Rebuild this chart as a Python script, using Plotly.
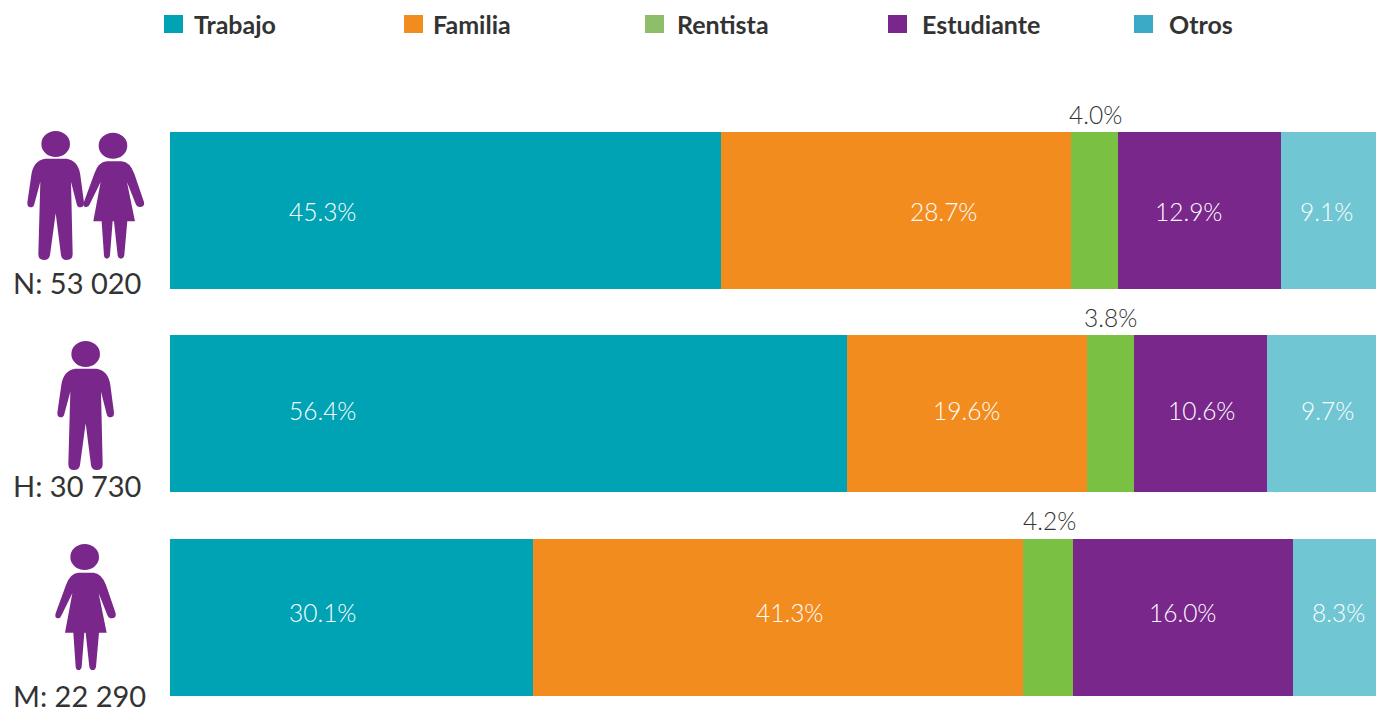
import re
import plotly.graph_objects as go

W, H = 1376, 707
LEFT = 170

groups = ["N", "H", "M"]
group_labels = ["N: 53 020", "H: 30 730", "M: 22 290"]
series_names = ["Trabajo", "Familia", "Rentista", "Estudiante", "Otros"]

# bar lengths as drawn in the picture (the source graphic is not strictly proportional)
trabajo = [45.7, 56.1, 30.1]
familia = [29.0, 19.9, 40.6]
rentista = [3.9, 3.9, 4.15]
estudiante = [13.5, 11.05, 18.25]
otros = [7.9, 9.05, 6.9]

# printed labels
trabajo_lbl = ["45.3%", "56.4%", "30.1%"]
familia_lbl = ["28.7%", "19.6%", "41.3%"]
rentista_lbl = ["4.0%", "3.8%", "4.2%"]
estudiante_lbl = ["12.9%", "10.6%", "16.0%"]
otros_lbl = ["9.1%", "9.7%", "8.3%"]

bar_colors = ["#00A3B4", "#F28C1E", "#7AC143", "#79278B", "#70C6D2"]
legend_colors = ["#00A3B4", "#F28C1E", "#8FBE6A", "#79278B", "#3AABC6"]
PURPLE = "#79278B"
INK = "#333333"
LIGHT = "Lato Light, Lato, sans-serif"


def px(x):
    return x / W


def py(y):
    return 1 - y / H


def transform(path, dx, dy):
    """Zoomed icon outline (3x) to paper coordinates with pixel offset."""
    out = []
    for tok in re.findall(r"[MLQZ]|-?\d+(?:\.\d+)?,-?\d+(?:\.\d+)?", path):
        if "," in tok:
            a, b = map(float, tok.split(","))
            out.append(f"{px(a / 3 + dx):.5f},{py(b / 3 + dy):.5f}")
        else:
            out.append(tok)
    return " ".join(out)


MAN = ("M225,116 L290,116 Q325,122 331,165 L342,248 Q342,262 331,262 Q322,262 320,252 L303,185 "
       "L308,402 Q308,420 290,420 Q275,420 273,405 L257,280 L240,405 Q238,420 222,420 Q205,420 205,402 "
       "L211,185 L193,252 Q191,262 182,262 Q172,262 172,248 L184,165 Q190,122 225,116 Z")
WOMAN = ("M235,113 L280,113 Q305,115 318,150 L347,235 Q350,250 335,250 Q326,250 322,240 L296,175 "
         "L320,293 L297,293 L288,395 Q286,405 278,405 Q270,405 268,395 L257,293 L253,293 L245,395 "
         "Q243,405 236,405 Q228,405 227,395 L220,293 L195,293 L217,175 L185,240 Q181,250 175,250 "
         "Q162,250 167,235 L198,150 Q210,115 235,113 Z")


def icon(path, head, dx, dy):
    hx, hy, rx, ry = head
    return [
        dict(type="path", xref="paper", yref="paper", path=transform(path, dx, dy),
             fillcolor=PURPLE, line=dict(width=0)),
        dict(type="circle", xref="paper", yref="paper",
             x0=px((hx - rx) / 3 + dx), x1=px((hx + rx) / 3 + dx),
             y0=py((hy + ry) / 3 + dy), y1=py((hy - ry) / 3 + dy),
             fillcolor=PURPLE, line=dict(width=0)),
    ]


MAN_HEAD = (257, 72, 43, 39)
WOMAN_HEAD = (254, 66, 43, 39)

shapes = []
shapes += icon(MAN, MAN_HEAD, 0, 330)
shapes += icon(WOMAN, WOMAN_HEAD, 0, 535)
shapes += icon(MAN, MAN_HEAD, -30, 120)
shapes += icon(WOMAN, WOMAN_HEAD, 28.3, 123.7)

fig = go.Figure()
for name, vals, color in zip(series_names,
                             [trabajo, familia, rentista, estudiante, otros], bar_colors):
    fig.add_trace(go.Bar(y=groups, x=vals, name=name, orientation="h",
                         marker=dict(color=color, line=dict(width=0)), showlegend=False,
                         hoverinfo="name+x"))

annotations = []


def note(x, y, text, color, size, family=LIGHT, anchor="center"):
    annotations.append(dict(xref="paper", yref="paper", x=px(x), y=py(y), text=text,
                            showarrow=False, xanchor=anchor, yanchor="middle",
                            font=dict(family=family, size=size, color=color)))


# in-bar label centres (pixels), one column per series
label_x = [[322, 322, 322], [943, 966, 789], [1095, 1110, 1049], [1188, 1201, 1182], [1326, 1327, 1338]]
label_y = [212, 410, 612]
above_y = [115, 317, 520]
for col, (lbls, xs) in enumerate(zip([trabajo_lbl, familia_lbl, rentista_lbl, estudiante_lbl, otros_lbl], label_x)):
    for r in range(3):
        if col == 2:
            note(xs[r], above_y[r], lbls[r], INK, 24.5)
        else:
            note(xs[r], label_y[r], lbls[r], "#FFFFFF", 24.5)

group_y = [283, 485, 695]
group_x = [11, 11, 11]
for t, x, y in zip(group_labels, group_x, group_y):
    note(x, y, t, INK, 29, family="Lato, sans-serif", anchor="left")

legend_x = [164, 404, 645, 888, 1134]
text_x = [192, 431, 675, 920, 1167]
for name, c, x, tx in zip(series_names, legend_colors, legend_x, text_x):
    shapes.append(dict(type="rect", xref="paper", yref="paper", x0=px(x), x1=px(x + 19),
                       y0=py(33), y1=py(15), fillcolor=c, line=dict(width=0)))
    note(tx, 24, f"<b>{name}</b>", "#333333", 25, family="Lato, sans-serif", anchor="left")

fig.update_layout(
    width=W, height=H, autosize=False, barmode="stack", bargap=0.2285,
    margin=dict(l=0, r=0, t=0, b=0), paper_bgcolor="white", plot_bgcolor="white",
    xaxis=dict(domain=[LEFT / W, 1], range=[0, 100], visible=False, fixedrange=True),
    yaxis=dict(domain=[0, 1], type="category", categoryorder="array", categoryarray=groups,
               range=[2.4415, -1.0325], visible=False, fixedrange=True),
    shapes=shapes, annotations=annotations,
)

fig.write_html("out.html", config=dict(displayModeBar=False),
               post_script="document.body.style.margin='0';document.body.style.overflow='hidden';")
